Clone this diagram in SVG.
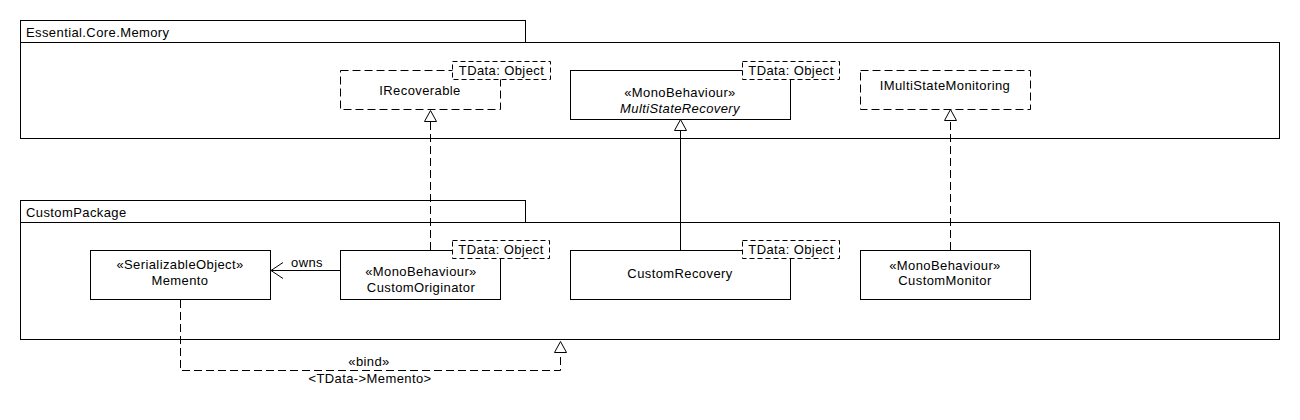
<svg xmlns="http://www.w3.org/2000/svg" width="1300" height="420" viewBox="0 0 1300 420">
<style>
text{font-family:"Liberation Sans",Arial,sans-serif;font-size:13px;letter-spacing:0.4px;fill:#000}
.c{text-anchor:middle}
.i{font-style:italic}
.box{fill:#fff;stroke:#000;stroke-width:1}
.dbox{fill:#fff;stroke:#000;stroke-width:1;stroke-dasharray:8 4}
.tpl{fill:#fff;stroke:#000;stroke-width:1;stroke-dasharray:5 3}
.pkg{fill:#fff;stroke:#000;stroke-width:1}
.ln{fill:none;stroke:#000;stroke-width:1}
.dl{fill:none;stroke:#000;stroke-width:1;stroke-dasharray:8 4}
.tri{fill:#fff;stroke:#000;stroke-width:1}
</style>
<rect width="1300" height="420" fill="#fff"/>
<g id="pkg-core">
<rect class="pkg" x="20.5" y="20.5" width="505" height="22"/>
<rect class="pkg" x="20.5" y="42.5" width="1259" height="96"/>
<text x="26" y="37">Essential.Core.Memory</text>
</g>
<g id="pkg-custom">
<rect class="pkg" x="20.5" y="200.5" width="505" height="22"/>
<rect class="pkg" x="20.5" y="222.5" width="1259" height="117"/>
<text x="26" y="217">CustomPackage</text>
</g>
<g id="connectors">
<path class="dl" d="M430.5 250 V122"/>
<path class="tri" d="M430.5 110.5 L424.5 121.5 L436.5 121.5 Z"/>
<path class="ln" d="M680.5 250 V131"/>
<path class="tri" d="M680.5 119.5 L674.5 130.5 L686.5 130.5 Z"/>
<path class="dl" d="M950.5 250 V121"/>
<path class="tri" d="M950.5 109.5 L944.5 120.5 L956.5 120.5 Z"/>
<path class="ln" d="M340 270.5 H271"/>
<path class="ln" d="M283 262.5 L271 270.5 L283 278.5"/>
<text x="291" y="267">owns</text>
<path class="dl" d="M180.5 300 V370.5 H560.5 V353"/>
<path class="tri" d="M560.5 341.5 L554.5 352.5 L566.5 352.5 Z"/>
<text class="c" x="369" y="366">«bind»</text>
<text class="c" x="370" y="383">&lt;TData-&gt;Memento&gt;</text>
</g>
<g id="IRecoverable">
<rect class="dbox" x="340.5" y="70.5" width="160" height="39"/>
<rect class="tpl" x="452.5" y="61.5" width="98" height="18"/>
<text class="c" x="501.5" y="75">TData: Object</text>
<text class="c" x="420" y="95">IRecoverable</text>
</g>
<g id="MultiStateRecovery">
<rect class="box" x="570.5" y="70.5" width="220" height="49"/>
<rect class="tpl" x="742.5" y="61.5" width="97" height="18"/>
<text class="c" x="791" y="75">TData: Object</text>
<text class="c" x="680" y="97">«MonoBehaviour»</text>
<text class="c i" x="680" y="112.5">MultiStateRecovery</text>
</g>
<g id="IMultiStateMonitoring">
<rect class="dbox" x="860.5" y="70.5" width="170" height="39"/>
<text class="c" x="945" y="89.5">IMultiStateMonitoring</text>
</g>
<g id="Memento">
<rect class="box" x="90.5" y="250.5" width="180" height="49"/>
<text class="c" x="180" y="269">«SerializableObject»</text>
<text class="c" x="180" y="285">Memento</text>
</g>
<g id="CustomOriginator">
<rect class="box" x="340.5" y="250.5" width="160" height="49"/>
<rect class="tpl" x="452.5" y="240.5" width="97" height="18"/>
<text class="c" x="501" y="254">TData: Object</text>
<text class="c" x="421" y="276">«MonoBehaviour»</text>
<text class="c" x="421" y="292">CustomOriginator</text>
</g>
<g id="CustomRecovery">
<rect class="box" x="570.5" y="250.5" width="220" height="49"/>
<rect class="tpl" x="742.5" y="240.5" width="97" height="18"/>
<text class="c" x="791" y="254">TData: Object</text>
<text class="c" x="680" y="278">CustomRecovery</text>
</g>
<g id="CustomMonitor">
<rect class="box" x="860.5" y="250.5" width="170" height="49"/>
<text class="c" x="945" y="269.5">«MonoBehaviour»</text>
<text class="c" x="945" y="284.5">CustomMonitor</text>
</g>
</svg>
